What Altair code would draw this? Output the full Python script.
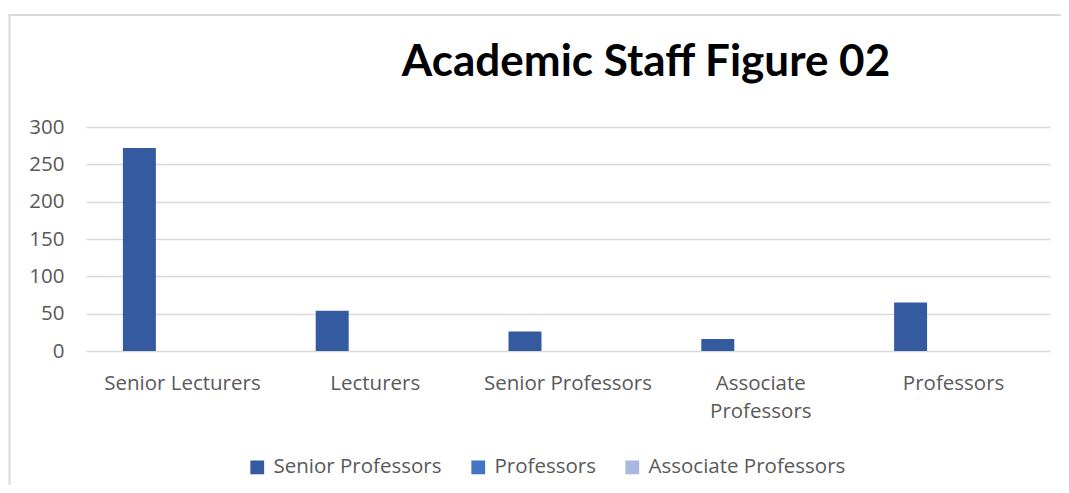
import altair as alt
import pandas as pd

categories = ["Senior Lecturers", "Lecturers", "Senior Professors", "Associate Professors", "Professors"]
series = ["Senior Professors", "Professors", "Associate Professors"]
senior_prof = [272, 54, 26, 16, 65]
professors = [0, 0, 0, 0, 0]
assoc_prof = [0, 0, 0, 0, 0]
colors = ["#345B9F", "#4472C4", "#A9B8E0"]

rows = []
for s, vals in zip(series, [senior_prof, professors, assoc_prof]):
    for c, v in zip(categories, vals):
        rows.append({"category": c, "series": s, "value": v})
df = pd.DataFrame(rows)

FONT = "Open Sans"
FS = 20.5
GREY = "#595959"

bars = alt.Chart(df).mark_bar().encode(
    x=alt.X("category:N", sort=categories, title=None,
            scale=alt.Scale(paddingInner=0, paddingOuter=0),
            axis=alt.Axis(labelAngle=0, ticks=False, domain=False, labelPadding=22,
                          labelFontSize=FS, labelColor=GREY, labelFont=FONT,
                          labelLineHeight=28,
                          labelExpr="datum.label == 'Associate Professors' ? ['Associate', 'Professors'] : datum.label")),
    xOffset=alt.XOffset("series:N", sort=series,
                        scale=alt.Scale(paddingInner=0.233, paddingOuter=0.858)),
    y=alt.Y("value:Q", title=None, scale=alt.Scale(domain=[0, 300]),
            axis=alt.Axis(values=[0, 50, 100, 150, 200, 250, 300], ticks=False, domain=False,
                          labelPadding=22, labelFontSize=FS, labelColor=GREY, labelFont=FONT,
                          gridColor="#D9D9D9", gridWidth=1.3)),
    color=alt.Color("series:N", sort=series, title=None,
                    scale=alt.Scale(domain=series, range=colors),
                    legend=alt.Legend(orient="none", legendX=161, legendY=330,
                                      direction="horizontal", symbolType="square",
                                      symbolSize=190, symbolStrokeWidth=0, labelFontSize=FS,
                                      labelColor=GREY, labelFont=FONT, columnPadding=26,
                                      labelOffset=6, labelLimit=300)),
)

frame_data = alt.Data(values=[{}])
top_line = alt.Chart(frame_data).mark_rule(color="#D9D9D9", strokeWidth=2).encode(
    x=alt.value(-77.5), x2=alt.value(975), y=alt.value(-112)
)
left_line = alt.Chart(frame_data).mark_rule(color="#D9D9D9", strokeWidth=2).encode(
    x=alt.value(-76.5), y=alt.value(-113), y2=alt.value(358)
)

chart = alt.layer(top_line, left_line, bars).properties(
    width=964, height=224,
    autosize=alt.AutoSizeParams(type="none"),
    padding={"left": 78, "top": 119, "right": 11, "bottom": 134},
    title=alt.TitleParams("Academic Staff Figure 02", font="Lato", fontSize=44, fontWeight="bold",
                          color="#000000", anchor="middle", frame="group", dx=78, offset=-72),
).configure_view(stroke=None)

chart.save("out.html", embed_options={"renderer": "svg", "actions": False})
